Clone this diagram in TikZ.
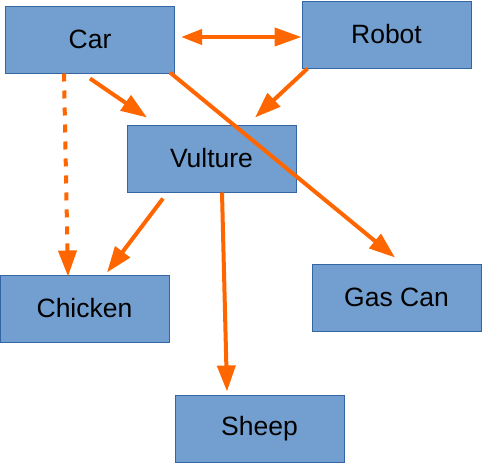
\documentclass[tikz,border=0pt]{standalone}
\usepackage{fontspec}
\setmainfont{Liberation Sans}
\usetikzlibrary{arrows.meta,calc}
\definecolor{boxblue}{RGB}{114,159,207}
\definecolor{boxedge}{RGB}{52,101,164}
\definecolor{linkorange}{RGB}{255,102,0}

\begin{document}
\begin{tikzpicture}[
    x=1pt, y=-1pt,
    every node/.style={font=\fontsize{26.5}{31}\selectfont},
    thing/.style={rectangle, draw=boxedge, line width=1pt, fill=boxblue,
        minimum width=169pt, minimum height=67pt, inner sep=0pt},
    link/.style={-{Triangle[length=26pt,width=18pt]}, line width=4pt, draw=linkorange},
    both/.style={{Triangle[length=21pt,width=15pt]}-{Triangle[length=27pt,width=18pt]},
        line width=4pt, draw=linkorange},
    maybe/.style={link, dash pattern=on 8pt off 9pt}
]
    \useasboundingbox (0,0) rectangle (482,463);

    % Nodes
    \node[thing] (car) at (90,39.5) {Car};
    \node[thing] (robot) at (386.5,34.5) {Robot};
    \node[thing] (vulture) at (211.5,158.5) {Vulture};
    \node[thing] (chicken) at (84.5,308.5) {Chicken};
    \node[thing] (gascan) at (396.5,297.5) {Gas Can};
    \node[thing] (sheep) at (259.5,428.5) {Sheep};

    % Edges
    \draw[both] ([shift={(6,-2.5)}]car.east) -- ([shift={(0,2.5)}]robot.west);
    \draw[link] ([shift={(0,5)}]car.south) -- ([shift={(-64.5,-7)}]vulture.north);
    \draw[link] ([shift={(6,0)}]robot.south west) -- ([shift={(43.5,-7)}]vulture.north);
    \draw[maybe] ([shift={(-26,0)}]car.south) -- ([shift={(-16.5,2)}]chicken.north);
    \draw[link] ([shift={(-5,-1)}]car.south east) -- ([shift={(-1.5,-6)}]gascan.north);
    \draw[link] ([shift={(-48.5,6)}]vulture.south) -- ([shift={(22.5,-2)}]chicken.north);
    \draw[link] ([shift={(10.5,0)}]vulture.south) -- ([shift={(-32.5,-3)}]sheep.north);
\end{tikzpicture}
\end{document}
